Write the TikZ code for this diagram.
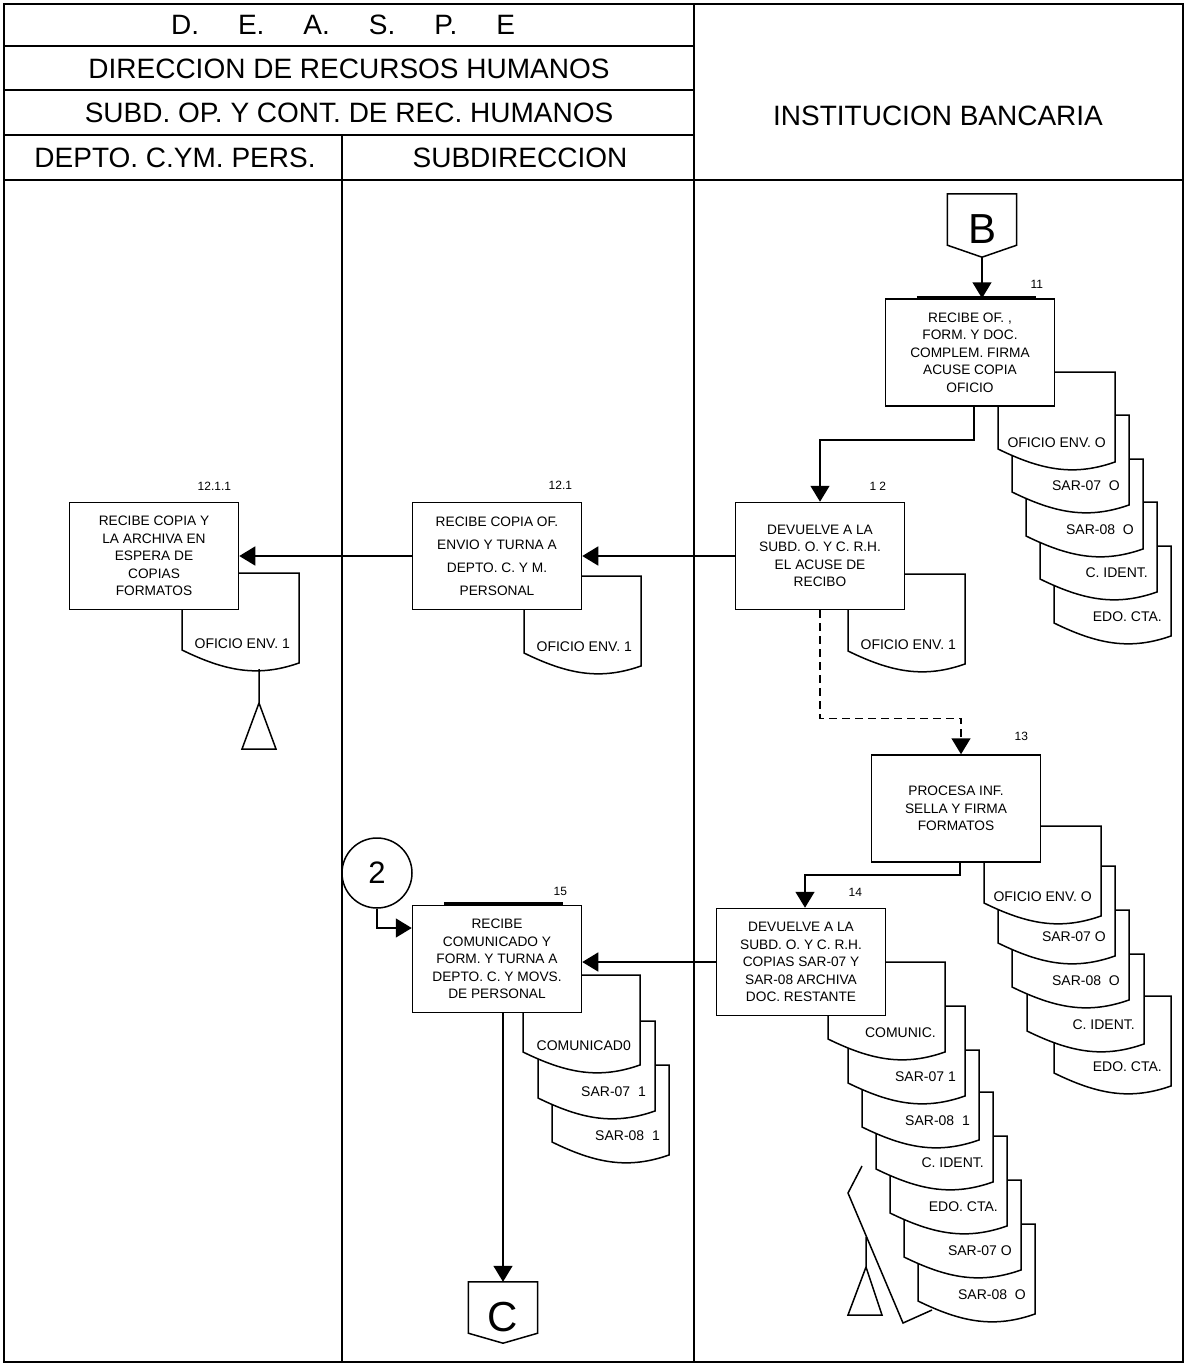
\documentclass[tikz,border=0pt]{standalone}
\usepackage{fontspec}
\setmainfont{Liberation Sans}
\usetikzlibrary{calc, arrows.meta, positioning}

\tikzset{
  outerframe/.style={line width=2.2pt},
  lane/.style={line width=1.5pt},
  headtext/.style={inner sep=0pt, font=\fontsize{28}{30}\selectfont},
  proc/.style={draw, fill=white, line width=1.5pt, minimum width=169pt,
    minimum height=107pt, inner sep=2pt, align=center,
    font=\fontsize{13.7}{17.5}\selectfont},
  num/.style={inner sep=0pt, font=\fontsize{12}{12}\selectfont},
  doc/.style={draw, fill=white, line width=1.5pt},
  doclabel/.style={anchor=east, inner sep=0pt, font=\fontsize{14}{14}\selectfont},
  topbar/.style={line width=3.5pt},
  flow/.style={line width=1.5pt, -{Triangle[length=16pt,width=19pt]}},
  dashflow/.style={flow, dash pattern=on 8pt off 5pt},
  pageconn/.style={minimum width=69pt, minimum height=51pt, inner sep=0pt,
    label={[inner sep=0pt, font=\fontsize{42}{42}\selectfont, yshift=-10pt]center:#1}},
  pageconnline/.style={line width=1.5pt},
  onpage/.style={draw, circle, line width=1.5pt, minimum size=70pt, inner sep=0pt,
    font=\fontsize{31}{31}\selectfont}
}

% document sheet: name, left x, top y, text
\newcommand{\docsheet}[4]{%
  \draw[doc] (#2,#3) -- ++(117,0) -- ++(0,90)
    .. controls +(-40,14) and +(45,22) .. (#2,#3+77) -- cycle;
  \node[doclabel] (#1) at (#2+108,#3+71) {#4};
}

\begin{document}
\begin{tikzpicture}[x=1pt, y=-1pt]
  \useasboundingbox (0,0) rectangle (1187,1367);

  % lanes and header
  \draw[outerframe] (4,4) rectangle (1183,1362);
  \draw[lane] (694,4) -- (694,1362);
  \draw[lane] (342,135) -- (342,1362);
  \draw[lane] (4,46) -- (694,46);
  \draw[lane] (4,90) -- (694,90);
  \draw[lane] (4,135) -- (694,135);
  \draw[lane] (4,180) -- (1183,180);

  \node[headtext] (hdeaspe) at (343,25)
    {D.\hspace{39pt}E.\hspace{39pt}A.\hspace{39pt}S.\hspace{39pt}P.\hspace{39pt}E};
  \node[headtext] (hdir) at (349,69) {DIRECCION DE RECURSOS HUMANOS};
  \node[headtext] (hsubd) at (349,113) {SUBD. OP. Y CONT. DE REC. HUMANOS};
  \node[headtext] (hdepto) at (175,158) {DEPTO. C.YM. PERS.};
  \node[headtext] (hsubdir) at (520,158) {SUBDIRECCION};
  \node[headtext] (hbanco) at (938,116) {INSTITUCION BANCARIA};

  % documents (back to front)
  \docsheet{d11e}{1054}{546}{EDO. CTA.}
  \docsheet{d11d}{1040}{502}{C. IDENT.}
  \docsheet{d11c}{1026}{459}{SAR-08\ \ O}
  \docsheet{d11b}{1012}{415}{SAR-07\ \ O}
  \docsheet{d11a}{998}{372}{OFICIO ENV. O}

  \docsheet{d12}{848}{574}{OFICIO ENV. 1}
  \docsheet{d121}{524}{576}{OFICIO ENV. 1}
  \docsheet{d1211}{182}{573}{OFICIO ENV. 1}

  \docsheet{d13e}{1054}{996}{EDO. CTA.}
  \docsheet{d13d}{1027}{954}{C. IDENT.}
  \docsheet{d13c}{1012}{910}{SAR-08\ \ O}
  \docsheet{d13b}{998}{866}{SAR-07 O}
  \docsheet{d13a}{984}{826}{OFICIO ENV. O}

  \docsheet{d14g}{918}{1224}{SAR-08\ \ O}
  \docsheet{d14f}{904}{1180}{SAR-07 O}
  \docsheet{d14e}{890}{1136}{EDO. CTA.}
  \docsheet{d14d}{876}{1092}{C. IDENT.}
  \docsheet{d14c}{862}{1050}{SAR-08\ \ 1}
  \docsheet{d14b}{848}{1006}{SAR-07 1}
  \docsheet{d14a}{828}{962}{COMUNIC.}

  \docsheet{d15c}{552}{1065}{SAR-08\ \ 1}
  \docsheet{d15b}{538}{1021}{SAR-07\ \ 1}
  \docsheet{d15a}{523}{975}{COMUNICAD0}

  % process boxes
  \node[proc] (p11) at (970,352.5)
    {RECIBE OF. ,\\FORM. Y DOC.\\COMPLEM. FIRMA\\ACUSE COPIA\\OFICIO};
  \node[proc] (p12) at (820,556)
    {DEVUELVE A LA\\SUBD. O. Y C. R.H.\\EL ACUSE DE\\RECIBO};
  \node[proc, font=\fontsize{13.7}{23}\selectfont] (p121) at (497,556)
    {RECIBE COPIA OF.\\ENVIO Y TURNA A\\DEPTO. C. Y M.\\PERSONAL};
  \node[proc] (p1211) at (154,556)
    {RECIBE COPIA Y\\LA ARCHIVA EN\\ESPERA DE\\COPIAS\\FORMATOS};
  \node[proc] (p13) at (956,808.5)
    {PROCESA INF.\\SELLA Y FIRMA\\FORMATOS};
  \node[proc] (p14) at (801,962)
    {DEVUELVE A LA\\SUBD. O. Y C. R.H.\\COPIAS SAR-07 Y\\SAR-08 ARCHIVA\\DOC. RESTANTE};
  \node[proc] (p15) at (497,959)
    {RECIBE\\COMUNICADO Y\\FORM. Y TURNA A\\DEPTO. C. Y MOVS.\\DE PERSONAL};

  \draw[topbar] ([xshift=32pt,yshift=1pt]p11.north west) -- ([xshift=-19pt,yshift=1pt]p11.north east);
  \draw[topbar] ([xshift=32pt,yshift=1pt]p15.north west) -- ([xshift=-19pt,yshift=1pt]p15.north east);

  % step numbers
  \node[num, above left=10pt and 12pt of p11.north east] (n11) {11};
  \node[num, above left=11pt and 19pt of p12.north east] (n12) {1\hspace{3pt}2};
  \node[num, above left=12pt and 10pt of p121.north east] (n121) {12.1};
  \node[num, above left=11pt and 8pt of p1211.north east] (n1211) {12.1.1};
  \node[num, above left=13pt and 13pt of p13.north east] (n13) {13};
  \node[num, above left=11pt and 24pt of p14.north east] (n14) {14};
  \node[num, above left=9pt and 15pt of p15.north east] (n15) {15};

  % connectors
  \node[pageconn=B] (B) at (982,219.5) {};
  \draw[pageconnline] (B.north west) -- (B.south west) -- ([yshift=-12pt]B.south) coordinate (Btip)
    -- (B.south east) -- (B.north east) -- cycle;
  \node[pageconn=C] (C) at (503,1307.5) {};
  \draw[pageconnline] (C.north west) -- (C.south west) -- ([yshift=-10pt]C.south)
    -- (C.south east) -- (C.north east) -- cycle;
  \node[onpage] (c2) at (377,873) {2};

  % flow
  \draw[flow] (Btip) -- (Btip |- p11.north);
  \draw[flow] ([xshift=4pt]p11.south) -- ++(0,33) -| (p12.north);
  \draw[flow] (p12.west) -- (p121.east);
  \draw[flow] (p121.west) -- (p1211.east);
  \draw[dashflow] (p12.south) -- ++(0,108) -| ([xshift=5pt]p13.north);
  \draw[flow] ([xshift=4pt]p13.south) -- ++(0,12) -| ([xshift=4pt]p14.north);
  \draw[flow] (p14.west) -- (p14.west -| p15.east);
  \draw[flow] (c2.south) |- ([yshift=31pt]p15.west);
  \draw[flow] (p15.south -| C.north) -- (C.north);

  % archive symbols
  \draw[lane] (259,669) -- (259,703) -- (242,749) -- (276,749) -- (259,703);
  \draw[lane] (866,1237) -- (866,1267) -- (848,1315) -- (882,1315) -- (866,1267);
  \draw[lane] (862,1166) -- (848,1193) -- (903,1323) -- (932,1310);
\end{tikzpicture}
\end{document}
